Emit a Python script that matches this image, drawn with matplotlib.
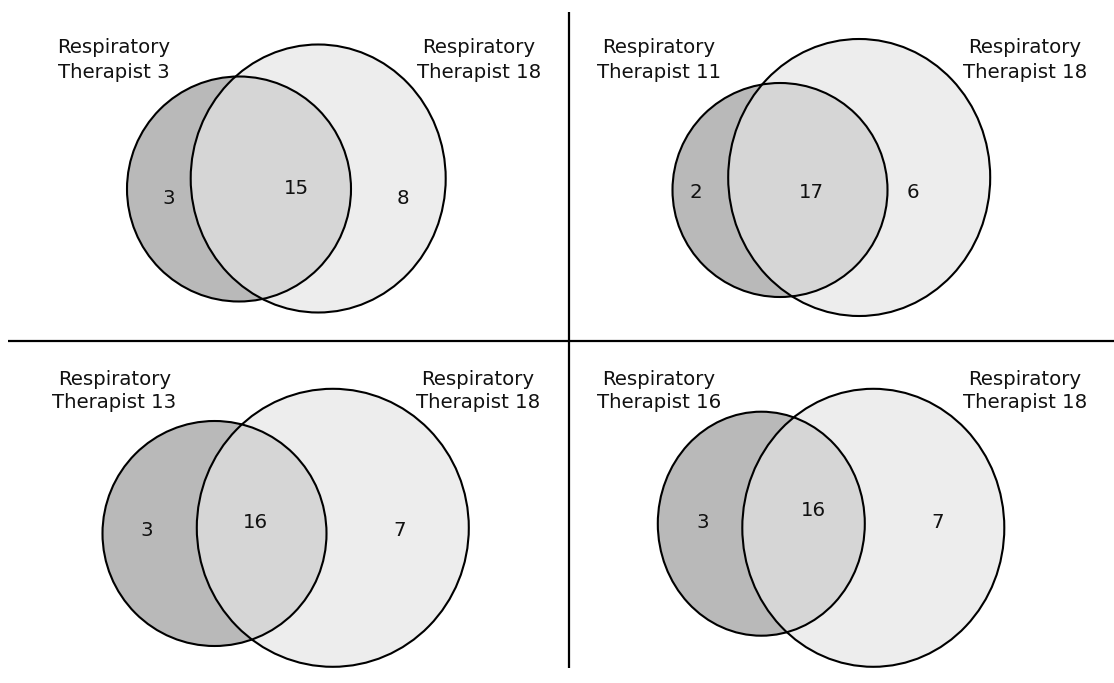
import matplotlib
matplotlib.use("Agg")
import matplotlib.pyplot as plt
from matplotlib.patches import Ellipse

# ---- data ----
left_names = ["Respiratory Therapist 3", "Respiratory Therapist 11",
              "Respiratory Therapist 13", "Respiratory Therapist 16"]
right_names = ["Respiratory Therapist 18"] * 4
only_left = [3, 2, 3, 3]
both = [15, 17, 16, 16]
only_right = [8, 6, 7, 7]

# ---- layout (pixel coordinates of the 1114x683 canvas) ----
small_geo = [(239, 189, 224, 225), (780, 190, 215, 214),
             (214.5, 533.5, 224, 225), (761.3, 523.7, 207, 224)]
large_geo = [(318.2, 178.5, 255, 268), (859.2, 177.5, 262, 277),
             (332.8, 527.8, 272, 278), (873.3, 527.8, 262, 278)]
left_pos = [(114, 53, 78.5), (659, 53, 78.5), (114.5, 385, 408.5), (659, 385, 408.5)]
right_pos = [(479, 53, 78.5), (1025, 53, 78.5), (478, 385, 408.5), (1025, 385, 408.5)]
num_pos = [((169, 198), (296, 188), (403, 198)),
           ((696, 193), (811, 192), (913, 193)),
           ((147, 530), (255, 522), (400, 530)),
           ((703, 522), (813, 510), (938, 522))]

C_DARK, C_MID, C_LIGHT = "#b9b9b9", "#d6d6d6", "#ededed"
FONT = "DejaVu Sans"
FS = 14.2

fig = plt.figure(figsize=(11.14, 6.83), dpi=100)
ax = fig.add_axes([0, 0, 1, 1])
ax.set_xlim(0, 1114)
ax.set_ylim(683, 0)
ax.axis("off")

for i in range(4):
    sx, sy, sw, sh = small_geo[i]
    lx, ly, lw, lh = large_geo[i]
    big = Ellipse((lx, ly), lw, lh, facecolor=C_LIGHT, edgecolor="none", zorder=1)
    ax.add_patch(big)
    small = Ellipse((sx, sy), sw, sh, facecolor=C_DARK, edgecolor="none", zorder=2)
    ax.add_patch(small)
    inter = Ellipse((lx, ly), lw, lh, facecolor=C_MID, edgecolor="none", zorder=3)
    ax.add_patch(inter)
    inter.set_clip_path(small)
    for (cx, cy, w, h) in [(lx, ly, lw, lh), (sx, sy, sw, sh)]:
        ax.add_patch(Ellipse((cx, cy), w, h, facecolor="none",
                             edgecolor="black", lw=1.5, zorder=4))

    for name, (x, y1, y2) in [(left_names[i], left_pos[i]), (right_names[i], right_pos[i])]:
        first, second = name.split(" ", 1)
        ax.text(x, y1, first, ha="center", va="baseline", fontsize=FS,
                family=FONT, color="#111111", zorder=5)
        ax.text(x, y2, second, ha="center", va="baseline", fontsize=FS,
                family=FONT, color="#111111", zorder=5)

    vals = [only_left[i], both[i], only_right[i]]
    for v, (x, y) in zip(vals, num_pos[i]):
        ax.text(x, y, str(v), ha="center", va="center", fontsize=FS,
                family=FONT, color="#111111", zorder=5)

# dividing lines
ax.plot([569, 569], [12, 668], color="black", lw=1.6, zorder=6, solid_capstyle="butt")
ax.plot([8, 1114], [341, 341], color="black", lw=1.6, zorder=6, solid_capstyle="butt")

fig.savefig("out.png", dpi=100, facecolor="white")
